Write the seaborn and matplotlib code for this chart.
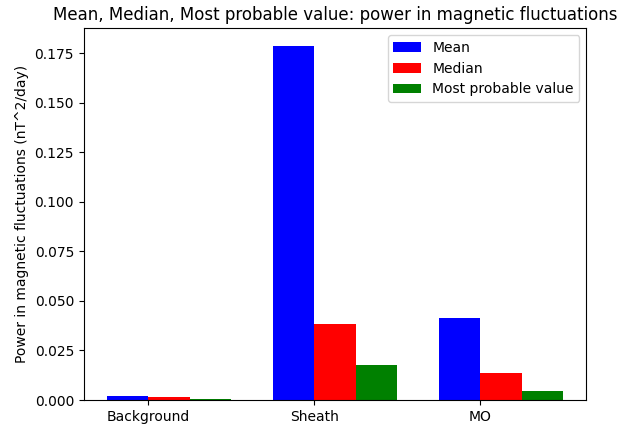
import matplotlib
matplotlib.use("Agg")
import matplotlib.pyplot as plt
import seaborn as sns
import pandas as pd

categories = ["Background", "Sheath", "MO"]
series = ["Mean", "Median", "Most probable value"]
mean_vals = [0.0020, 0.1787, 0.0416]
median_vals = [0.00135, 0.0386, 0.0136]
mpv_vals = [0.0004, 0.0176, 0.0045]
colors = ["blue", "red", "green"]

rows = []
for s, vals in zip(series, [mean_vals, median_vals, mpv_vals]):
    for c, v in zip(categories, vals):
        rows.append({"region": c, "stat": s, "value": v})
df = pd.DataFrame(rows)

fig, ax = plt.subplots(figsize=(6.21, 4.32), dpi=100)
fig.subplots_adjust(left=0.135, right=0.944, bottom=0.074, top=0.935)

sns.barplot(data=df, x="region", y="value", hue="stat", order=categories,
            hue_order=series, palette=colors, saturation=1, width=0.75,
            linewidth=0, errorbar=None, ax=ax)

ax.set_xticks([i - 0.125 for i in range(len(categories))])
ax.set_xticklabels(categories)
ax.set_xlim(-0.5125, 2.5125)
ax.set_xlabel("")
ax.set_ylabel("Power in magnetic fluctuations (nT^2/day)")
ax.set_title("Mean, Median, Most probable value: power in magnetic fluctuations")
ax.legend(loc="upper right", title=None)

fig.savefig("out.png", dpi=100)
